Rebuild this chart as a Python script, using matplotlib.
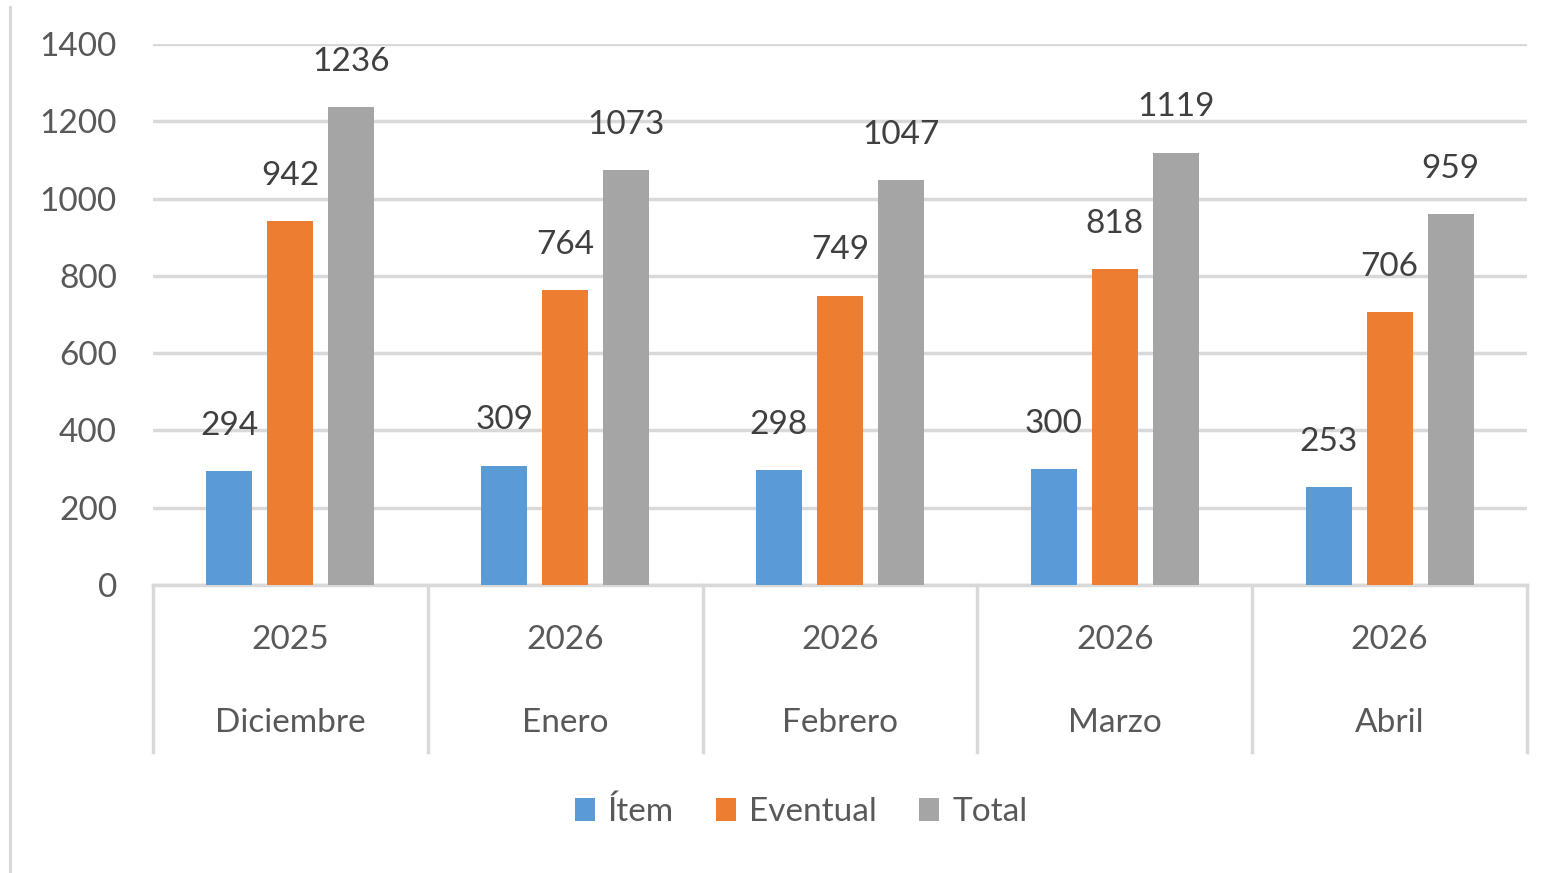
import matplotlib.pyplot as plt
from matplotlib.lines import Line2D
import numpy as np

# data
years = ['2025', '2026', '2026', '2026', '2026']
months = ['Diciembre', 'Enero', 'Febrero', 'Marzo', 'Abril']
item = [294, 309, 298, 300, 253]
eventual = [942, 764, 749, 818, 706]
total = [1236, 1073, 1047, 1119, 959]
series_names = ['Ítem', 'Eventual', 'Total']
colors = ['#5b9bd5', '#ed7d31', '#a5a5a5']

plt.rcParams['font.family'] = ['Lato', 'DejaVu Sans']
txt = '#595959'
grid_c = '#d9d9d9'

fig = plt.figure(figsize=(15.53, 8.73), dpi=100)
ax = fig.add_axes([153/1553, 1-585/873, 1374/1553, 541/873])

x = np.arange(len(months))
w = 0.168
off = 0.222
for k, vals in enumerate([item, eventual, total]):
    pos = x + (k-1)*off
    ax.bar(pos, vals, width=w, color=colors[k], label=series_names[k], zorder=3)
    for px, v in zip(pos, vals):
        ax.annotate('%d' % v, (px, v), xytext=(0, 26), textcoords='offset points',
                    ha='center', va='baseline', fontsize=24, color='#404040')

ax.set_xlim(-0.5, len(months)-0.5)
ax.set_ylim(0, 1400)
ax.set_yticks(range(0, 1401, 200))
ax.tick_params(axis='y', length=0, pad=26, labelsize=24, labelcolor=txt)
ax.set_xticks([])
ax.grid(axis='y', color=grid_c, linewidth=2.5, zorder=0)
for s in ['top', 'right', 'left']:
    ax.spines[s].set_visible(False)
ax.spines['bottom'].set_color(grid_c)
ax.spines['bottom'].set_linewidth(2.5)

# two-level category axis
tr = ax.get_xaxis_transform()
for i in range(len(months)):
    ax.text(i, -0.101, years[i], transform=tr, ha='center', va='center',
            fontsize=24, color=txt)
    ax.text(i, -0.255, months[i], transform=tr, ha='center', va='center',
            fontsize=24, color=txt)
for b in np.arange(-0.5, len(months), 1.0):
    ax.add_line(Line2D([b, b], [0, -0.309], transform=tr, color=grid_c,
                       linewidth=2.5, clip_on=False))

fig.legend(loc='center', bbox_to_anchor=(801/1553, 1-812/873), ncol=3,
           frameon=False, fontsize=24, labelcolor=txt, handlelength=0.6,
           handleheight=0.65, handletextpad=0.4, columnspacing=1.25)

# left border line of the original image
fig.add_artist(Line2D([10/1553, 10/1553], [0, 1-7/873], color=grid_c,
                      linewidth=2.2))

fig.savefig('out.png', dpi=100)
